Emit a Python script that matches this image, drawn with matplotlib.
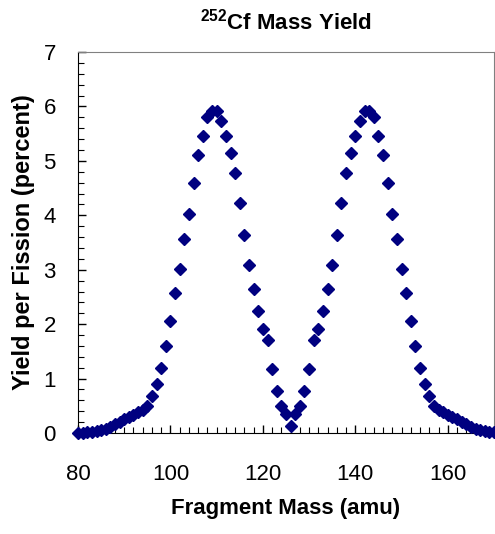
import matplotlib
matplotlib.use("Agg")
import matplotlib.pyplot as plt
from matplotlib.ticker import MultipleLocator

plt.rcParams['font.family'] = ['Liberation Sans', 'DejaVu Sans']
plt.rcParams['mathtext.fontset'] = 'custom'
plt.rcParams['mathtext.rm'] = 'Liberation Sans'
plt.rcParams['mathtext.bf'] = 'Liberation Sans:bold'

# fragment mass (amu) and yield per fission (percent)
mass = list(range(80, 171))
yield_pct = [
    0.00, 0.00, 0.01, 0.02, 0.03, 0.05, 0.07, 0.11, 0.16, 0.21,   # 80-89
    0.26, 0.29, 0.33, 0.38, 0.43, 0.49, 0.68, 0.90, 1.19, 1.60,   # 90-99
    2.06, 2.58, 3.02, 3.56, 4.02, 4.59, 5.11, 5.46, 5.80, 5.92,   # 100-109
    5.92, 5.74, 5.46, 5.14, 4.77, 4.23, 3.64, 3.09, 2.65, 2.25,   # 110-119
    1.92, 1.70, 1.18, 0.78, 0.50, 0.35, 0.12, 0.35, 0.50, 0.78,   # 120-129
    1.18, 1.70, 1.92, 2.25, 2.65, 3.09, 3.64, 4.23, 4.77, 5.14,   # 130-139
    5.46, 5.74, 5.92, 5.92, 5.80, 5.46, 5.11, 4.59, 4.02, 3.56,   # 140-149
    3.02, 2.58, 2.06, 1.60, 1.19, 0.90, 0.68, 0.49, 0.43, 0.38,   # 150-159
    0.33, 0.29, 0.26, 0.21, 0.16, 0.11, 0.07, 0.05, 0.03, 0.02,   # 160-169
    0.01,                                                         # 170
]

fig = plt.figure(figsize=(4.95, 5.34), dpi=100)
ax = fig.add_axes([0.1576, 0.1891, 0.8404, 0.7135])

ax.plot(mass, yield_pct, linestyle='none', marker='D', markersize=6,
        color='#000080', clip_on=False, zorder=3)

ax.set_xlim(80, 170)
ax.set_ylim(0, 7)
ax.xaxis.set_major_locator(MultipleLocator(20))
ax.xaxis.set_minor_locator(MultipleLocator(2))
ax.yaxis.set_major_locator(MultipleLocator(1))
ax.yaxis.set_minor_locator(MultipleLocator(0.2))
ax.tick_params(which='both', direction='in', labelsize=16)
ax.tick_params(which='major', length=6, width=1)
ax.tick_params(which='minor', length=4, width=0.8)
ax.tick_params(axis='x', pad=22)
ax.tick_params(axis='y', pad=16)

ax.spines['top'].set_color('#808080')
ax.spines['right'].set_color('#808080')
ax.spines['left'].set_color('black')
ax.spines['bottom'].set_color('black')

ax.set_xlabel('Fragment Mass (amu)', fontsize=16, fontweight='bold', labelpad=10)
ax.set_ylabel('Yield per Fission (percent)', fontsize=17, fontweight='bold', labelpad=6)
ax.set_title('$\\mathbf{^{252}}$Cf Mass Yield', fontsize=16, fontweight='bold', pad=16)

fig.savefig('out.png', dpi=100)
